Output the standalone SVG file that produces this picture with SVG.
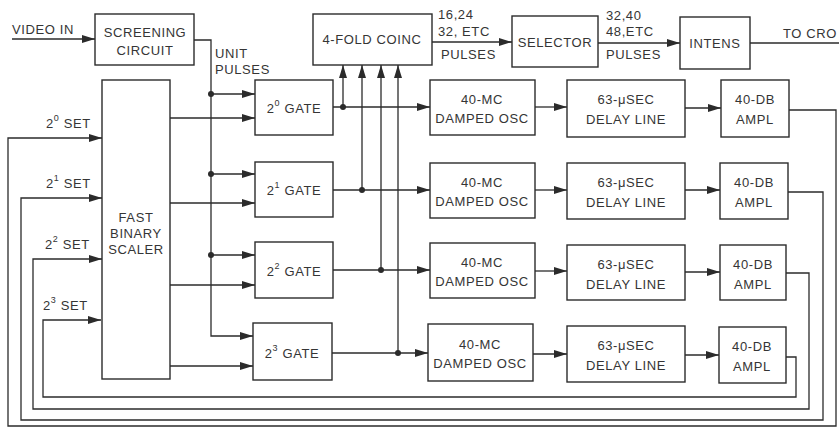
<svg xmlns="http://www.w3.org/2000/svg" width="839" height="427" viewBox="0 0 839 427">
<style>
.box{fill:none;stroke:#2b2b2b;stroke-width:1.4}
.ln{fill:none;stroke:#2b2b2b;stroke-width:1.3}
.arr{marker-end:url(#ah)}
text{font-family:"Liberation Sans","DejaVu Sans",sans-serif;font-size:13px;fill:#353535;letter-spacing:0.6px}
.c{text-anchor:middle}
.sup{font-size:9px}
.dot{fill:#2b2b2b}
</style>
<defs>
<marker id="ah" viewBox="0 0 13 8" refX="13" refY="4" markerWidth="13" markerHeight="8" orient="auto" markerUnits="userSpaceOnUse">
<path d="M0,0 L13,4 L0,8 z" fill="#2b2b2b"/>
</marker>
</defs>
<rect width="839" height="427" fill="#fff"/>

<g id="connectors">
<path class="ln arr" d="M12,39 H95"/>
<path class="ln arr" d="M194,40 H211 V336 H253"/>
<path class="ln arr" d="M211,94 H255"/>
<path class="ln arr" d="M211,174 H255"/>
<path class="ln arr" d="M211,255 H255"/>
<circle class="dot" cx="211" cy="94" r="3"/>
<circle class="dot" cx="211" cy="174" r="3"/>
<circle class="dot" cx="211" cy="255" r="3"/>
<path class="ln arr" d="M170,118 H255"/>
<path class="ln arr" d="M170,203 H255"/>
<path class="ln arr" d="M170,285 H255"/>
<path class="ln arr" d="M170,366 H253"/>
<path class="ln arr" d="M333,107 H430"/>
<path class="ln arr" d="M333,190 H430"/>
<path class="ln arr" d="M333,270 H430"/>
<path class="ln arr" d="M332,353 H428"/>
<circle class="dot" cx="343" cy="107" r="3"/>
<circle class="dot" cx="362" cy="190" r="3"/>
<circle class="dot" cx="381" cy="270" r="3"/>
<circle class="dot" cx="398" cy="353" r="3"/>
<path class="ln arr" d="M343,107 V65"/>
<path class="ln arr" d="M362,190 V65"/>
<path class="ln arr" d="M381,270 V65"/>
<path class="ln arr" d="M398,353 V65"/>
<path class="ln arr" d="M535,107 H567"/>
<path class="ln arr" d="M535,190 H567"/>
<path class="ln arr" d="M535,271 H567"/>
<path class="ln arr" d="M533,354 H567"/>
<path class="ln arr" d="M685,108 H721"/>
<path class="ln arr" d="M685,190 H720"/>
<path class="ln arr" d="M685,272 H720"/>
<path class="ln arr" d="M685,355 H719"/>
<path class="ln arr" d="M432,42 H512"/>
<path class="ln arr" d="M598,43 H680"/>
<path class="ln" d="M750,43 H839"/>
<path class="ln arr" d="M789,110 H836 V426 H8 V138 H102"/>
<path class="ln arr" d="M788,192 H823 V420 H21 V198 H102"/>
<path class="ln arr" d="M786,273 H809 V409 H33 V259 H102"/>
<path class="ln arr" d="M786,357 H796 V397 H43 V320 H101"/>
</g>

<g id="labels">
<text x="12" y="34">VIDEO IN</text>
<text x="215" y="58">UNIT</text>
<text x="215" y="74">PULSES</text>
<text x="438" y="19">16,24</text>
<text x="438" y="36">32, ETC</text>
<text x="441" y="59">PULSES</text>
<text x="606" y="20">32,40</text>
<text x="606" y="36">48,ETC</text>
<text x="606" y="59">PULSES</text>
<text x="783" y="38">TO CRO</text>
<text x="46" y="128">2<tspan class="sup" dy="-7">0</tspan><tspan dy="7"> SET</tspan></text>
<text x="46" y="188">2<tspan class="sup" dy="-7">1</tspan><tspan dy="7"> SET</tspan></text>
<text x="45" y="249">2<tspan class="sup" dy="-7">2</tspan><tspan dy="7"> SET</tspan></text>
<text x="43" y="310">2<tspan class="sup" dy="-7">3</tspan><tspan dy="7"> SET</tspan></text>
</g>

<g id="screening">
<rect class="box" x="95" y="14" width="99" height="51"/>
<text class="c" x="145" y="37">SCREENING</text>
<text class="c" x="145" y="55">CIRCUIT</text>
</g>
<g id="scaler">
<rect class="box" x="102" y="80" width="68" height="299"/>
<text class="c" x="136" y="222">FAST</text>
<text class="c" x="136" y="238">BINARY</text>
<text class="c" x="136" y="254">SCALER</text>
</g>

<g id="gate0">
<rect class="box" x="255" y="80" width="78" height="55"/>
<text class="c" x="294" y="113">2<tspan class="sup" dy="-7">0</tspan><tspan dy="7"> GATE</tspan></text>
</g>
<g id="gate1">
<rect class="box" x="255" y="162" width="78" height="55"/>
<text class="c" x="294" y="195">2<tspan class="sup" dy="-7">1</tspan><tspan dy="7"> GATE</tspan></text>
</g>
<g id="gate2">
<rect class="box" x="255" y="242" width="78" height="56"/>
<text class="c" x="294" y="276">2<tspan class="sup" dy="-7">2</tspan><tspan dy="7"> GATE</tspan></text>
</g>
<g id="gate3">
<rect class="box" x="253" y="323" width="79" height="57"/>
<text class="c" x="292" y="358">2<tspan class="sup" dy="-7">3</tspan><tspan dy="7"> GATE</tspan></text>
</g>

<g id="coinc">
<rect class="box" x="313" y="14" width="119" height="51"/>
<text class="c" x="372" y="44">4-FOLD COINC</text>
</g>
<g id="selector">
<rect class="box" x="512" y="16" width="86" height="51"/>
<text class="c" x="555" y="47">SELECTOR</text>
</g>
<g id="intens">
<rect class="box" x="680" y="17" width="70" height="52"/>
<text class="c" x="715" y="48">INTENS</text>
</g>

<g id="osc0">
<rect class="box" x="430" y="80" width="105" height="55"/>
<text class="c" x="482" y="104">40-MC</text>
<text class="c" x="482" y="123">DAMPED OSC</text>
</g>
<g id="osc1">
<rect class="box" x="430" y="163" width="105" height="55"/>
<text class="c" x="482" y="187">40-MC</text>
<text class="c" x="482" y="206">DAMPED OSC</text>
</g>
<g id="osc2">
<rect class="box" x="430" y="243" width="105" height="55"/>
<text class="c" x="482" y="267">40-MC</text>
<text class="c" x="482" y="286">DAMPED OSC</text>
</g>
<g id="osc3">
<rect class="box" x="428" y="324" width="105" height="57"/>
<text class="c" x="480" y="349">40-MC</text>
<text class="c" x="480" y="368">DAMPED OSC</text>
</g>

<g id="delay0">
<rect class="box" x="567" y="80" width="118" height="57"/>
<text class="c" x="626" y="104">63-μSEC</text>
<text class="c" x="626" y="124">DELAY LINE</text>
</g>
<g id="delay1">
<rect class="box" x="567" y="163" width="118" height="56"/>
<text class="c" x="626" y="187">63-μSEC</text>
<text class="c" x="626" y="207">DELAY LINE</text>
</g>
<g id="delay2">
<rect class="box" x="567" y="245" width="118" height="55"/>
<text class="c" x="626" y="269">63-μSEC</text>
<text class="c" x="626" y="289">DELAY LINE</text>
</g>
<g id="delay3">
<rect class="box" x="567" y="326" width="118" height="56"/>
<text class="c" x="626" y="350">63-μSEC</text>
<text class="c" x="626" y="370">DELAY LINE</text>
</g>

<g id="ampl0">
<rect class="box" x="721" y="80" width="68" height="57"/>
<text class="c" x="755" y="104">40-DB</text>
<text class="c" x="755" y="124">AMPL</text>
</g>
<g id="ampl1">
<rect class="box" x="720" y="163" width="68" height="56"/>
<text class="c" x="754" y="187">40-DB</text>
<text class="c" x="754" y="207">AMPL</text>
</g>
<g id="ampl2">
<rect class="box" x="720" y="245" width="66" height="55"/>
<text class="c" x="753" y="269">40-DB</text>
<text class="c" x="753" y="289">AMPL</text>
</g>
<g id="ampl3">
<rect class="box" x="719" y="327" width="67" height="56"/>
<text class="c" x="752" y="351">40-DB</text>
<text class="c" x="752" y="371">AMPL</text>
</g>
</svg>
